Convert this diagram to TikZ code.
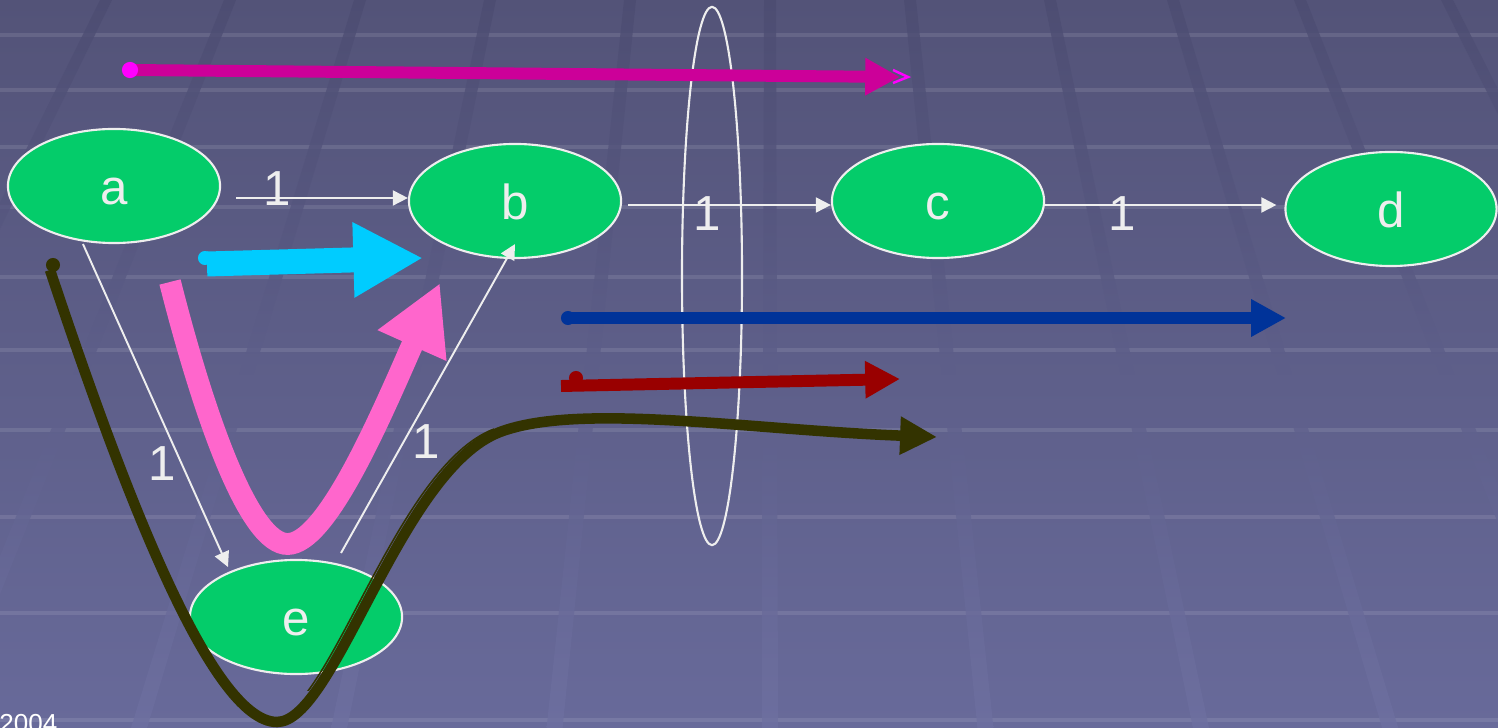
\documentclass[tikz,border=0pt]{standalone}
\usepackage{fontspec}
\setmainfont{Liberation Sans}
\usetikzlibrary{arrows.meta,shapes.geometric}
\definecolor{bgtop}{HTML}{535378}
\definecolor{bgbot}{HTML}{686A9A}
\definecolor{gridtop}{HTML}{4C4C71}
\definecolor{gridbot}{HTML}{6E70A1}
\definecolor{nodegreen}{HTML}{04CC6A}
\definecolor{txt}{HTML}{EEEEEE}
\definecolor{magc}{HTML}{CC0099}
\definecolor{magdot}{HTML}{FF00FF}
\definecolor{cyanc}{HTML}{00CCFF}
\definecolor{pinkc}{HTML}{FF66CC}
\definecolor{bluec}{HTML}{003399}
\definecolor{redc}{HTML}{990000}
\definecolor{olivec}{HTML}{333300}
\begin{document}
\begin{tikzpicture}[x=0.01cm,y=-0.01cm,
  vert/.style={ellipse,draw=txt,line width=0.6pt,fill=nodegreen,minimum width=2.12cm,minimum height=1.14cm,inner sep=0pt,text=txt,font=\fontsize{14}{16}\selectfont,text height=10.5pt,text depth=0pt},
  lbl/.style={text=txt,font=\fontsize{14}{16}\selectfont,inner sep=0pt},
  edgearrow/.style={draw=txt,line width=0.55pt,-{Triangle[length=4.3pt,width=4.3pt]}},
  flowarrow/.style={line width=3.4pt,-{Triangle[length=9.9pt,width=10pt]}}
]
\useasboundingbox (0,0) rectangle (1498,728);
\clip (0,0) rectangle (1498,728);
% background
\shade[top color=bgtop,bottom color=bgbot] (0,0) rectangle (1498,728);
\foreach \yy in {35,90,147,207,277,350,430,517,613,720}
  \draw[white,opacity=0.1,line width=1.2pt] (0,\yy) -- (1498,\yy);
\foreach \xx in {-30,106,230,360,490,630,770,910,1050,1173,1300,1447,1580}{
  \pgfmathsetmacro\xb{\xx+(\xx-770)*0.539}
  \shade[top color=gridtop,bottom color=gridbot,opacity=0.8]
    (\xx-6,0) -- (\xx+6,0) -- (\xb+8,728) -- (\xb-8,728) -- cycle;
}
% big cut ellipse
\node[ellipse,draw=txt,line width=0.6pt,minimum width=0.6cm,minimum height=5.38cm,inner sep=0pt] (cut) at (712,276) {};
% nodes
\node[vert] (a) at (114,186) {a};
\node[vert] (b) at (515,201) {b};
\node[vert] (c) at (938,201) {c};
\node[vert,minimum width=2.11cm] (d) at (1391,209) {d};
\node[vert] (e) at (296,617) {e};
% edges
\draw[edgearrow] ([shift={(15,12)}]a.east) -- ([shift={(0,-3)}]b.west);
\draw[edgearrow] ([shift={(6,4)}]b.east) -- ([shift={(0,4)}]c.west);
\draw[edgearrow] ([shift={(0,4)}]c.east) -- ([shift={(-8,-4)}]d.west);
\draw[edgearrow] ([shift={(-31,0)}]a.south) -- ([shift={(-68,-50)}]e.center);
\draw[edgearrow] ([shift={(45,-64)}]e.center) -- ([shift={(0,-15)}]b.south);
% labels
\node[lbl] (lab) at (277,189) {1};
\node[lbl] (lbc) at (707,214) {1};
\node[lbl] (lcd) at (1122,214) {1};
\node[lbl] (lae) at (162,464) {1};
\node[lbl] (leb) at (426,442) {1};
% magenta flow
\coordinate (m0) at (130,70);
\coordinate (m1) at (900,77);
\draw[magc,flowarrow] (m0) -- (m1);
\fill[magdot] (m0) circle[radius=2.3pt];
\draw[magdot,line width=0.7pt] (893,70) -- (908,77) -- (893,83);
% cyan flow
\coordinate (c0) at (207,264);
\coordinate (c1) at (423,258);
\draw[cyanc,line width=7.1pt,-{Triangle[length=19.8pt,width=20pt]}] (c0) -- (c1);
\fill[cyanc] (205,258) circle[radius=2pt];
% pink flow
\coordinate (p0) at (170,282);
\coordinate (p1) at (440,283);
\draw[pinkc,line width=6.2pt,-{Triangle[length=19.5pt,width=20pt]}] (p0) .. controls (205,420) and (250,545) .. (288,544) .. controls (325,543) and (375,430) .. (410,350) -- (p1);
% blue flow
\coordinate (b0) at (568,318);
\coordinate (b1) at (1286,318);
\draw[bluec,flowarrow] (b0) -- (b1);
\fill[bluec] (b0) circle[radius=2pt];
% red flow
\coordinate (r0) at (561,386);
\coordinate (r1) at (900,379);
\draw[redc,flowarrow] (r0) -- (r1);
\fill[redc] (576,378) circle[radius=2pt];
% olive flow
\coordinate (o0) at (50,270);
\coordinate (o1) at (937,437);
\draw[olivec,line width=3pt,-{Triangle[length=10.5pt,width=10.2pt]}] (o0) .. controls (120,480) and (210,722) .. (277,722) .. controls (335,722) and (400,470) .. (500,432) .. controls (580,402) and (750,430) .. (o1);
\begin{scope}
  \clip (300,0) rectangle (520,690);
  \draw[olivec,line width=0.45pt,shift={(-6,-3)}] (277,722) .. controls (335,722) and (400,470) .. (500,432);
\end{scope}
\fill[olivec] (53,265) circle[radius=2pt];
% date
\node[anchor=base east,text=white,font=\fontsize{7.4}{8}\selectfont,inner sep=0pt] (date) at (58,732) {/2004};
\end{tikzpicture}
\end{document}
